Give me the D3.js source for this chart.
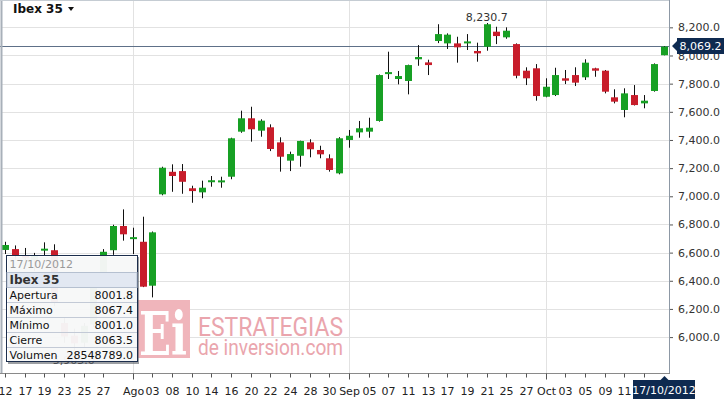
<!DOCTYPE html>
<html>
<head>
<meta charset="utf-8">
<script src="https://cdnjs.cloudflare.com/ajax/libs/d3/7.8.5/d3.min.js"></script>
<style>
  body { margin: 0; background: #fff; }
  svg { display: block; font-family: "DejaVu Sans", Verdana, sans-serif; }
</style>
</head>
<body>
<svg width="726" height="399"></svg>
<script>
// trading days shown (Jul 12 -> Oct 17 2012)
var dates = [
  "2012-07-12","2012-07-13","2012-07-17","2012-07-18","2012-07-19","2012-07-20","2012-07-23","2012-07-24","2012-07-25","2012-07-26","2012-07-27","2012-07-30","2012-07-31",
  "2012-08-01","2012-08-02","2012-08-03","2012-08-07","2012-08-08","2012-08-09","2012-08-10","2012-08-13","2012-08-14","2012-08-15","2012-08-16","2012-08-17","2012-08-20","2012-08-21","2012-08-22","2012-08-23","2012-08-24","2012-08-27","2012-08-28","2012-08-29","2012-08-30","2012-08-31",
  "2012-09-03","2012-09-04","2012-09-05","2012-09-06","2012-09-07","2012-09-10","2012-09-11","2012-09-12","2012-09-13","2012-09-14","2012-09-17","2012-09-18","2012-09-19","2012-09-20","2012-09-21","2012-09-24","2012-09-25","2012-09-26","2012-09-27","2012-09-28",
  "2012-10-01","2012-10-02","2012-10-03","2012-10-04","2012-10-05","2012-10-08","2012-10-09","2012-10-10","2012-10-11","2012-10-12","2012-10-15","2012-10-16","2012-10-17"
];
var opens = [
  6619,6625,6580,6545,6620,6617,6100,6010,5960,6090,6430,6617,6789,
  6700,6677,6365,7014,7174,7179,7057,7028,7108,7109,7139,7459,7554,7466,7490,7383,7253,7288,7383,7329,7270,7163,
  7400,7454,7459,7535,7875,7833,7819,7973,7951,8103,8086,8086,8094,8032,8062,8169,8129,8081,7892,7909,
  7707,7719,7838,7861,7845,7909,7892,7703,7613,7719,7660,7748,8001.8
];
var highs = [
  6677,6651,6633,6598,6673,6659,6135,6060,6100,6450,6625,6798,6907,
  6777,6855,6750,7210,7227,7229,7075,7111,7144,7139,7416,7608,7636,7547,7511,7419,7317,7395,7405,7359,7298,7420,
  7471,7535,7558,7865,8027,7890,7935,8074,7970,8222,8157,8133,8152,8091,8230.7,8204,8200,8086,7916,7939,
  7838,7913,7897,7916,7973,7913,7897,7760,7767,7790,7719,7944,8067.4
];
var lows = [
  6590,6550,6505,6470,6580,6220,5960,5905,5930,6070,6400,6584,6685,
  6590,6355,6282,7007,7032,7018,6954,6986,7068,7061,7121,7451,7388,7423,7321,7175,7179,7210,7277,7270,7175,7156,
  7345,7416,7416,7530,7833,7795,7724,7927,7861,8088,8046,7949,8039,7956,8034,8081,8119,7838,7790,7679,
  7703,7712,7797,7783,7826,7849,7731,7660,7561,7645,7625,7743,8001.0
];
var closes = [
  6654,6575,6560,6575,6628,6246,6004,5956,6080,6420,6606,6789,6730,
  6710,6358,6744,7203,7144,7103,7037,7061,7114,7113,7412,7554,7476,7537,7336,7281,7300,7393,7334,7298,7187,7412,
  7430,7483,7487,7861,7882,7854,7932,7989,7932,8152,8148,8058,8100,8015,8222,8138,8176,7856,7838,7712,
  7778,7861,7821,7807,7949,7892,7743,7672,7731,7648,7679,7939,8063.5
];
var lastVolume = 28548789.0;
var lastValue = 8069.2;
var lastDateLabel = "17/10/2012";
var seriesName = "Ibex 35";

var yTicks = [6000, 6200, 6400, 6600, 6800, 7000, 7200, 7400, 7600, 7800, 8000, 8200];
var tickDates = ["2012-07-12","2012-07-17","2012-07-19","2012-07-23","2012-07-25","2012-07-27","2012-08-01","2012-08-03","2012-08-08","2012-08-10","2012-08-14","2012-08-16","2012-08-20","2012-08-22","2012-08-24","2012-08-28","2012-08-30","2012-09-03","2012-09-05","2012-09-07","2012-09-11","2012-09-13","2012-09-17","2012-09-19","2012-09-21","2012-09-25","2012-09-27","2012-10-01","2012-10-03","2012-10-05","2012-10-09","2012-10-11","2012-10-15"];
var tickLabels = ["12","17","19","23","25","27","Ago","03","08","10","14","16","20","22","24","28","30","Sep","05","07","11","13","17","19","21","25","27","Oct","03","05","09","11",""];
var monthStarts = ["2012-08-01","2012-09-03","2012-10-01"];
var tipRows = ["Apertura", "Máximo", "Mínimo", "Cierre", "Volumen"];

var svg = d3.select("svg"),
    plotLeft = 2, plotRight = 669, plotTop = 1, plotBottom = 373;

var x = d3.scalePoint().domain(dates).range([5, 663.6]);
var y = d3.scaleLinear().domain([5745, 8387]).range([plotBottom, plotTop]);
var fmt = d3.format(",.1f");

var data = dates.map(function (d, i) {
  return {date: d, o: opens[i], h: highs[i], l: lows[i], c: closes[i]};
});

// grid
svg.append("g").selectAll("line")
  .data(yTicks).enter().append("line")
  .attr("x1", plotLeft).attr("x2", plotRight)
  .attr("y1", function (d) { return Math.round(y(d)) + 0.5; })
  .attr("y2", function (d) { return Math.round(y(d)) + 0.5; })
  .attr("stroke", "#e2e2e2");
svg.append("g").selectAll("line")
  .data(monthStarts).enter().append("line")
  .attr("y1", plotTop).attr("y2", plotBottom)
  .attr("x1", function (d) { return Math.round(x(d)) + 0.5; })
  .attr("x2", function (d) { return Math.round(x(d)) + 0.5; })
  .attr("stroke", "#e2e2e2");

// watermark
var wm = svg.append("g");
wm.append("rect").attr("x", 136).attr("y", 300).attr("width", 54).attr("height", 58).attr("fill", "#f0b5bb");
wm.append("text").attr("x", 139).attr("y", 355).attr("font-family", "DejaVu Serif").attr("font-weight", "bold")
  .attr("font-size", 60).attr("fill", "#fff").attr("textLength", 48).attr("lengthAdjust", "spacingAndGlyphs").text("Ei");
wm.append("text").attr("x", 198).attr("y", 336).attr("font-family", "Roboto").attr("font-size", 25)
  .attr("fill", "#eaa5ad").attr("textLength", 145).attr("lengthAdjust", "spacingAndGlyphs").text("ESTRATEGIAS");
wm.append("text").attr("x", 198).attr("y", 355).attr("font-family", "Roboto").attr("font-size", 22)
  .attr("fill", "#eaa5ad").attr("textLength", 145).attr("lengthAdjust", "spacingAndGlyphs").text("de inversion.com");

// last value line
svg.append("line")
  .attr("x1", 0).attr("x2", plotRight)
  .attr("y1", Math.round(y(lastValue)) + 0.5).attr("y2", Math.round(y(lastValue)) + 0.5)
  .attr("stroke", "#5e7088");

// candles
var candle = svg.append("g").selectAll("g")
  .data(data).enter().append("g");
candle.append("line")
  .attr("x1", function (d) { return Math.round(x(d.date)) + 0.5; })
  .attr("x2", function (d) { return Math.round(x(d.date)) + 0.5; })
  .attr("y1", function (d) { return y(d.h); })
  .attr("y2", function (d) { return y(d.l); })
  .attr("stroke", "#111");
candle.append("rect")
  .attr("x", function (d) { return Math.round(x(d.date)) - 3; })
  .attr("width", 7)
  .attr("y", function (d) { return y(Math.max(d.o, d.c)); })
  .attr("height", function (d) { return Math.max(2, Math.abs(y(d.o) - y(d.c))); })
  .attr("fill", function (d) { return d.c >= d.o ? "#17a024" : "#c81d2b"; });

// max / min labels
var iMax = d3.maxIndex(highs), iMin = d3.minIndex(lows);
svg.append("text").attr("x", x(dates[iMax])).attr("y", 21).attr("text-anchor", "middle")
  .attr("font-size", 11).attr("fill", "#333").text(fmt(highs[iMax]));
svg.append("text").attr("x", x(dates[iMin])).attr("y", y(lows[iMin]) + 14).attr("text-anchor", "middle")
  .attr("font-size", 11).attr("fill", "#333").text(fmt(lows[iMin]));

// frame
svg.append("line").attr("x1", 1.5).attr("x2", 1.5).attr("y1", 0).attr("y2", plotBottom).attr("stroke", "#a8b0b9").attr("stroke-width", 2);
svg.append("line").attr("x1", plotRight + 0.5).attr("x2", plotRight + 0.5).attr("y1", 0).attr("y2", plotBottom).attr("stroke", "#8d98a5");
svg.append("line").attr("x1", 0).attr("x2", plotRight).attr("y1", 0.5).attr("y2", 0.5).attr("stroke", "#c5ccd3");
svg.append("line").attr("x1", 0).attr("x2", plotRight + 1).attr("y1", plotBottom + 0.5).attr("y2", plotBottom + 0.5).attr("stroke", "#8a8a8a");

// right axis
var yAxis = svg.append("g")
  .attr("transform", "translate(" + (plotRight + 1) + ",0)")
  .call(d3.axisRight(y).tickValues(yTicks).tickFormat(fmt).tickSize(3).tickPadding(5));
yAxis.select(".domain").remove();
yAxis.selectAll("line").attr("stroke", "#555");
yAxis.selectAll("text").attr("font-size", 11).attr("fill", "#333").attr("font-family", "DejaVu Sans");

// bottom axis
var xAxis = svg.append("g")
  .attr("transform", "translate(0," + (plotBottom + 0.5) + ")")
  .call(d3.axisBottom(x).tickValues(tickDates)
    .tickFormat(function (d, i) { return tickLabels[i]; })
    .tickSize(4).tickPadding(9.5));
xAxis.select(".domain").remove();
xAxis.selectAll(".tick").attr("transform", function (d) { return "translate(" + (Math.round(x(d)) + 0.5) + ",0)"; });
xAxis.selectAll("line").attr("stroke", "#555")
  .attr("y2", function (d) { return monthStarts.indexOf(d) >= 0 ? 6 : 4; });
xAxis.selectAll("text").attr("font-size", 11).attr("fill", "#222").attr("font-family", "DejaVu Sans");

// current value marker on the right axis
var ly = Math.round(y(lastValue));
svg.append("path")
  .attr("d", "M672," + ly + "L677," + (ly - 5) + "L677," + (ly - 8) + "L724," + (ly - 8) + "L724," + (ly + 8) + "L677," + (ly + 8) + "L677," + (ly + 5) + "Z")
  .attr("fill", "#0e2a50");
svg.append("text").attr("x", 700.5).attr("y", ly + 4).attr("text-anchor", "middle")
  .attr("font-size", 11).attr("fill", "#fff").text(fmt(lastValue));

// date marker on the bottom axis
var lx = Math.round(x(dates[dates.length - 1])) + 0.5;
svg.append("path")
  .attr("d", "M" + lx + "," + (plotBottom + 3) + "L" + (lx + 4) + ",380L695,380L695,399L633,399L633,380L" + (lx - 4) + ",380Z")
  .attr("fill", "#0e2a50");
svg.append("text").attr("x", 664).attr("y", 394).attr("text-anchor", "middle")
  .attr("font-size", 11).attr("fill", "#fff").text(lastDateLabel);

// title
svg.append("text").attr("x", 13).attr("y", 13).attr("font-size", 12).attr("font-weight", "bold")
  .attr("fill", "#111").text(seriesName);
svg.append("path").attr("d", "M68,7L74,7L71,11Z").attr("fill", "#111");

// tooltip box
var last = data[data.length - 1];
var tipValues = [last.o, last.h, last.l, last.c, lastVolume];
var tip = svg.append("g").attr("transform", "translate(6,255)");
tip.append("rect").attr("x", 2).attr("y", 2).attr("width", 131).attr("height", 107).attr("fill", "#5a5f66").attr("opacity", 0.6);
tip.append("rect").attr("x", 0.5).attr("y", 0.5).attr("width", 131).attr("height", 106)
  .attr("fill", "#fff").attr("fill-opacity", 0.92).attr("stroke", "#1c2e4c");
tip.append("rect").attr("x", 1).attr("y", 17.5).attr("width", 130).attr("height", 15)
  .attr("fill", "#e2e8f2").attr("stroke", "#b5c0d0");
tip.append("text").attr("x", 3.5).attr("y", 13).attr("font-size", 11).attr("fill", "#9a9a9a").text(lastDateLabel);
tip.append("text").attr("x", 3.5).attr("y", 29).attr("font-size", 12).attr("font-weight", "bold").attr("fill", "#333").text(seriesName);
var row = tip.selectAll("g.row").data(tipRows).enter().append("g")
  .attr("class", "row")
  .attr("transform", function (d, i) { return "translate(0," + (32.5 + i * 15) + ")"; });
row.append("line").attr("x1", 1).attr("x2", 131).attr("y1", 15).attr("y2", 15)
  .attr("stroke", function (d, i) { return i < tipRows.length - 1 ? "#c3cad6" : "none"; });
row.append("text").attr("x", 3.5).attr("y", 11).attr("font-size", 11).attr("fill", "#111").text(function (d) { return d; });
row.append("text").attr("x", 127).attr("y", 11).attr("text-anchor", "end").attr("font-size", 11).attr("fill", "#111")
  .text(function (d, i) { return d3.format(".1f")(tipValues[i]); });
</script>
</body>
</html>
